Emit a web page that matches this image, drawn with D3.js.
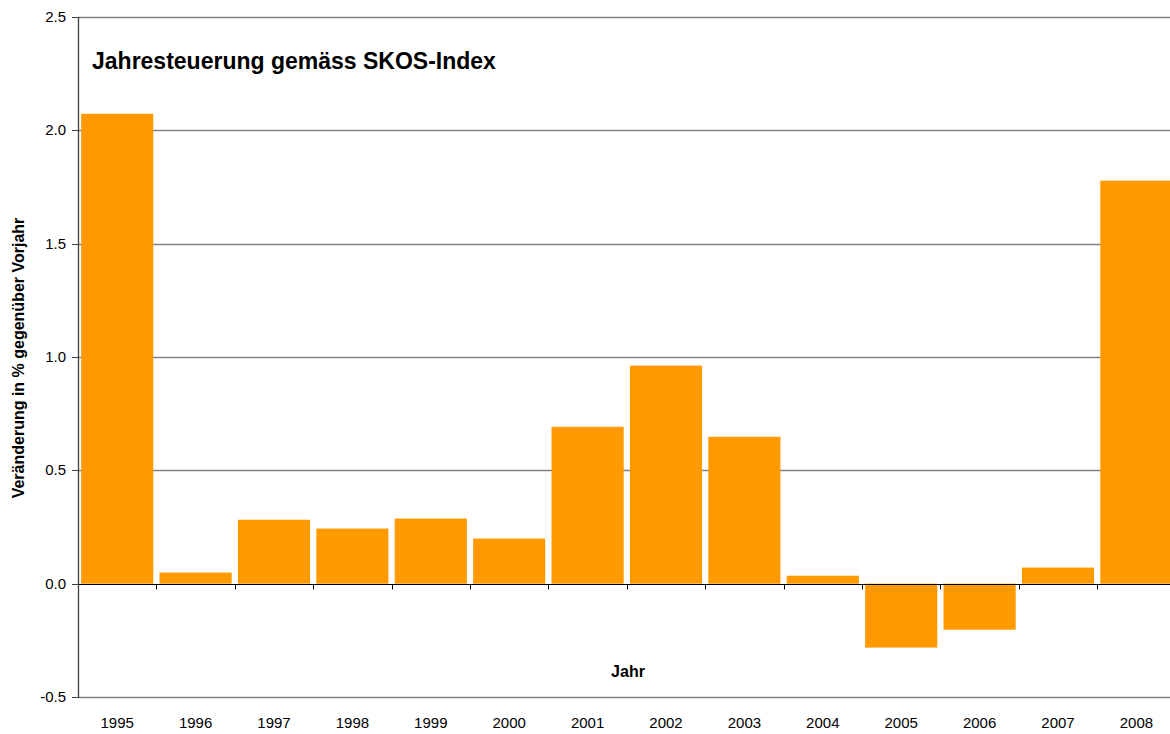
<!DOCTYPE html>
<html lang="de">
<head>
<meta charset="UTF-8">
<title>Jahresteuerung</title>
<script src="https://cdn.jsdelivr.net/npm/d3@7"></script>
<style>
    *{margin:0;padding:0}
    body{background:#fff;overflow:hidden}
    text{font-family:Arial,"Liberation Sans",sans-serif;fill:#000}
</style>
</head>
<body>
<div id="chart"></div>
<script>
    // Daten
    var years = ['1995','1996','1997','1998','1999','2000','2001','2002','2003','2004','2005','2006','2007','2008'];
    var values = [2.073,0.049,0.282,0.243,0.287,0.199,0.692,0.962,0.648,0.035,-0.282,-0.203,0.071,1.778];
    var yTicks = [-0.5,0,0.5,1.0,1.5,2.0,2.5];

    var width = 1170, height = 734;
    var svg = d3.select('#chart').append('svg')
        .attr('width', width)
        .attr('height', height);

    var x = d3.scaleBand().domain(years).range([78, 1175.6]).paddingInner(0.08).paddingOuter(0.04);
    var y = d3.scaleLinear().domain([-0.5, 2.5]).range([697, 17]);

    // gridlines
    svg.append('g').selectAll('line')
        .data(yTicks.filter(function (d) { return d !== 0; }))
        .enter().append('line')
        .attr('x1', 78).attr('x2', width)
        .attr('y1', function (d) { return Math.round(y(d)) + 0.5; })
        .attr('y2', function (d) { return Math.round(y(d)) + 0.5; })
        .attr('stroke', '#808080')
        .attr('stroke-width', 1.3);

    // bars
    svg.append('g').selectAll('rect')
        .data(values)
        .enter().append('rect')
        .attr('x', function (d, i) { return x(years[i]); })
        .attr('y', function (d) { return y(Math.max(0, d)); })
        .attr('width', x.bandwidth())
        .attr('height', function (d) { return Math.abs(y(d) - y(0)); })
        .attr('fill', '#ff9900');

    // x axis line at 0
    var y0 = Math.round(y(0)) + 0.5;
    svg.append('line')
        .attr('x1', 78).attr('x2', width)
        .attr('y1', y0).attr('y2', y0)
        .attr('stroke', '#000').attr('stroke-width', 1.2);

    // x ticks at band boundaries
    var half = x.step() * x.paddingInner() / 2;
    svg.append('g').selectAll('line')
        .data(years)
        .enter().append('line')
        .attr('x1', function (d) { return Math.round(x(d) - half) + 0.5; })
        .attr('x2', function (d) { return Math.round(x(d) - half) + 0.5; })
        .attr('y1', y0).attr('y2', y0 + 5)
        .attr('stroke', '#000');

    // y axis
    svg.append('line')
        .attr('x1', 78.5).attr('x2', 78.5)
        .attr('y1', y(2.5)).attr('y2', y(-0.5) + 1)
        .attr('stroke', '#404040').attr('stroke-width', 1.3);

    svg.append('g').selectAll('line')
        .data(yTicks)
        .enter().append('line')
        .attr('x1', 72).attr('x2', 78)
        .attr('y1', function (d) { return Math.round(y(d)) + 0.5; })
        .attr('y2', function (d) { return Math.round(y(d)) + 0.5; })
        .attr('stroke', '#404040');

    svg.append('g').selectAll('text')
        .data(yTicks)
        .enter().append('text')
        .attr('x', 66)
        .attr('y', function (d) { return y(d) + 5; })
        .attr('text-anchor', 'end')
        .style('font-size', '15px')
        .text(function (d) { return d.toFixed(1); });

    // x labels
    svg.append('g').selectAll('text')
        .data(years)
        .enter().append('text')
        .attr('x', function (d) { return x(d) + x.bandwidth() / 2; })
        .attr('y', 728)
        .attr('text-anchor', 'middle')
        .style('font-size', '15px')
        .text(function (d) { return d; });

    // title and axis titles
    svg.append('text')
        .attr('x', 92).attr('y', 69)
        .style('font-size', '23px').style('font-weight', 'bold')
        .text('Jahresteuerung gemäss SKOS-Index');

    svg.append('text')
        .attr('transform', 'translate(24,358) rotate(-90)')
        .attr('text-anchor', 'middle')
        .style('font-size', '16px').style('font-weight', 'bold')
        .text('Veränderung in % gegenüber Vorjahr');

    svg.append('text')
        .attr('x', 628).attr('y', 677)
        .attr('text-anchor', 'middle')
        .style('font-size', '16px').style('font-weight', 'bold')
        .text('Jahr');
</script>
</body>
</html>
